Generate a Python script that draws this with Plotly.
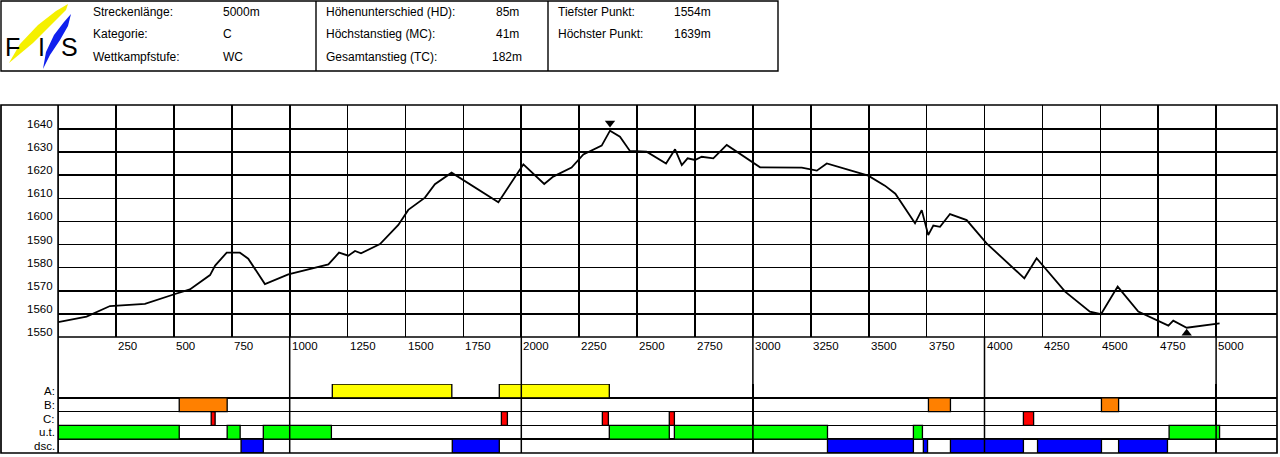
import plotly.graph_objects as go

# ---------------- data ----------------
distance_m = [0, 123, 224, 375, 505, 569, 656, 678, 728, 785, 821, 893, 994, 1167, 1213, 1253,
              1282, 1308, 1390, 1469, 1512, 1584, 1627, 1699, 1901, 1944, 2009, 2099, 2138, 2217,
              2268, 2347, 2383, 2426, 2469, 2541, 2625, 2664, 2693, 2718, 2750, 2779, 2829, 2887,
              3031, 3211, 3276, 3319, 3498, 3570, 3615, 3700, 3729, 3757, 3779, 3808, 3851, 3923,
              4009, 4172, 4225, 4348, 4455, 4503, 4575, 4664, 4794, 4815, 4873, 5015]
elevation_m = [1556.4, 1558.8, 1563.4, 1564.3, 1568.6, 1570.6, 1576.8, 1580.9, 1586.5, 1586.5,
               1583.9, 1572.9, 1577.1, 1581.4, 1586.5, 1585.2, 1587.2, 1586.2, 1590.2, 1598.5,
               1605.0, 1610.3, 1616.1, 1621.1, 1608.3, 1615.0, 1624.7, 1616.2, 1619.4, 1623.3,
               1629.0, 1632.8, 1639.3, 1636.7, 1630.5, 1630.2, 1625.1, 1631.2, 1624.4, 1627.3,
               1626.6, 1628.0, 1627.3, 1633.1, 1623.4, 1623.3, 1622.0, 1625.1, 1619.8, 1615.5,
               1612.0, 1599.2, 1604.9, 1594.1, 1598.2, 1597.7, 1603.2, 1600.6, 1590.5, 1575.4,
               1584.1, 1569.6, 1561.0, 1559.9, 1571.8, 1561.0, 1554.9, 1557.1, 1554.0, 1555.9]

x_ticks = list(range(250, 5001, 250))
x_tick_labels = [str(v) for v in x_ticks]
y_ticks = list(range(1550, 1641, 10))
y_tick_labels = [str(v) for v in y_ticks]
band_major_ticks = [1000, 2000, 3000, 4000, 5000]

band_rows = ["dsc.", "u.t.", "C:", "B:", "A:"]
band_colors = {"A:": "#ffff00", "B:": "#ff8000", "C:": "#ff0000", "u.t.": "#00ff00", "dsc.": "#0000ff"}
band_starts = {
    "A:": [1184, 1905],
    "B:": [523, 3758, 4505],
    "C:": [661, 1914, 2350, 2639, 4168],
    "u.t.": [0, 730, 886, 2380, 2661, 3693, 4797],
    "dsc.": [790, 1702, 3322, 3736, 3853, 4229, 4579],
}
band_ends = {
    "A:": [1700, 2380],
    "B:": [730, 3853, 4579],
    "C:": [678, 1940, 2376, 2661, 4212],
    "u.t.": [523, 786, 1180, 2639, 3322, 3732, 5015],
    "dsc.": [886, 1905, 3693, 3754, 4168, 4505, 4790],
}

header_labels_1 = ["Streckenlänge:", "Kategorie:", "Wettkampfstufe:"]
header_values_1 = ["5000m", "C", "WC"]
header_labels_2 = ["Höhenunterschied (HD):", "Höchstanstieg (MC):", "Gesamtanstieg (TC):"]
header_values_2 = ["85m", "41m", "182m"]
header_labels_3 = ["Tiefster Punkt:", "Höchster Punkt:"]
header_values_3 = ["1554m", "1639m"]

# ---------------- geometry helpers ----------------
W, H = 1280, 457
FONT = "Arial, Liberation Sans, Helvetica, sans-serif"


def px(x):
    return x / W


def py(y):
    return 1 - y / H


X0, X1 = 58.1, 1277.0
X_PER_M = 0.2316
x_range = [0, (X1 - X0) / X_PER_M]
Y_TOP, Y_BOT = 105.0, 337.0
Y_PER_M = 2.311
y_range = [1550, 1550 + (Y_BOT - Y_TOP) / Y_PER_M]
B_TOP, B_BOT = 384.0, 453.0

fig = go.Figure()

# elevation profile
fig.add_trace(go.Scatter(x=distance_m, y=elevation_m, mode="lines",
                         line=dict(color="black", width=1.8), hoverinfo="skip",
                         xaxis="x", yaxis="y", showlegend=False))

# highest / lowest markers
i_max = elevation_m.index(max(elevation_m))
i_min = elevation_m.index(min(elevation_m))
fig.add_trace(go.Scatter(x=[distance_m[i_max]], y=[elevation_m[i_max] + 3.3], mode="markers",
                         marker=dict(symbol="triangle-down", size=9, color="black"),
                         xaxis="x", yaxis="y", showlegend=False, hoverinfo="skip"))
fig.add_trace(go.Scatter(x=[distance_m[i_min]], y=[elevation_m[i_min] - 2.4], mode="markers",
                         marker=dict(symbol="triangle-up", size=9, color="black"),
                         xaxis="x", yaxis="y", showlegend=False, hoverinfo="skip"))

# bands
for row_idx, row in enumerate(band_rows):
    starts = band_starts[row]
    ends = band_ends[row]
    fig.add_trace(go.Bar(orientation="h", y=[row_idx] * len(starts),
                         x=[e - s for s, e in zip(starts, ends)], base=starts, width=1.0,
                         marker=dict(color=band_colors[row], line=dict(color="black", width=1.3)),
                         xaxis="x2", yaxis="y2", showlegend=False, hoverinfo="skip"))

shapes = []
annotations = []

# frame & structural lines
line_style = dict(color="black", width=1.7)
shapes.append(dict(type="rect", xref="paper", yref="paper", x0=px(1), x1=px(X1),
                   y0=py(B_BOT), y1=py(Y_TOP), line=line_style))
shapes.append(dict(type="line", xref="paper", yref="paper", x0=px(X0), x1=px(X0),
                   y0=py(B_BOT), y1=py(Y_TOP), line=line_style))
shapes.append(dict(type="line", xref="paper", yref="paper", x0=px(X0), x1=px(X1),
                   y0=py(Y_BOT), y1=py(Y_BOT), line=line_style))
for v in band_major_ticks:
    shapes.append(dict(type="line", xref="x2", yref="paper", x0=v, x1=v,
                       y0=py(B_BOT), y1=py(Y_BOT), line=dict(color="black", width=1.5)))

# header table
shapes.append(dict(type="rect", xref="paper", yref="paper", x0=px(1), x1=px(778),
                   y0=py(71), y1=py(1), line=dict(color="black", width=1.4)))
for xv in [316, 548]:
    shapes.append(dict(type="line", xref="paper", yref="paper", x0=px(xv), x1=px(xv),
                       y0=py(71), y1=py(1), line=dict(color="black", width=1.4)))

# logo swooshes


def path(points):
    s = "M " + " L ".join(f"{px(a):.5f},{py(b):.5f}" for a, b in points) + " Z"
    return s


yellow_pts = [(9, 63), (20, 44), (38, 25), (56, 11), (68, 4), (66, 10), (52, 24), (33, 43), (9, 63)]
blue_pts = [(43, 69), (46, 52), (54, 35), (64, 22), (71, 14), (68, 26), (60, 40), (50, 55), (43, 69)]
shapes.append(dict(type="path", xref="paper", yref="paper", path=path(yellow_pts),
                   fillcolor="#f5f000", line=dict(width=0), layer="below"))
shapes.append(dict(type="path", xref="paper", yref="paper", path=path(blue_pts),
                   fillcolor="#1020ee", line=dict(width=0), layer="below"))
for letter, lx in [("F", 3), ("I", 36), ("S", 59)]:
    annotations.append(dict(text=letter, xref="paper", yref="paper", x=px(lx), y=py(47),
                            xanchor="left", yanchor="middle", showarrow=False,
                            font=dict(family=FONT, size=25, color="black")))

row_y = [12, 34, 57]


def head(txt, x, y):
    annotations.append(dict(text=txt, xref="paper", yref="paper", x=px(x), y=py(y),
                            xanchor="left", yanchor="middle", showarrow=False,
                            font=dict(family=FONT, size=12, color="black")))


for i, (lab, val) in enumerate(zip(header_labels_1, header_values_1)):
    head(lab, 91, row_y[i]); head(val, 221, row_y[i])
for i, (lab, val) in enumerate(zip(header_labels_2, header_values_2)):
    head(lab, 324, row_y[i]); head(val, 494 if len(val) < 4 else 490, row_y[i])
for i, (lab, val) in enumerate(zip(header_labels_3, header_values_3)):
    head(lab, 556, row_y[i]); head(val, 672, row_y[i])

# axis labels
for v, t in zip(y_ticks, y_tick_labels):
    annotations.append(dict(text=t, xref="paper", yref="y", x=px(55), y=v, yshift=5,
                            xanchor="right", yanchor="middle", showarrow=False,
                            font=dict(family=FONT, size=11.5, color="black")))
for v, t in zip(x_ticks, x_tick_labels):
    annotations.append(dict(text=t, xref="x", yref="paper", x=v, y=py(346), xshift=0,
                            xanchor="left", yanchor="middle", showarrow=False,
                            font=dict(family=FONT, size=11.5, color="black")))
for idx, row in enumerate(band_rows):
    annotations.append(dict(text=row, xref="paper", yref="y2", x=px(57), y=idx,
                            xanchor="right", yanchor="middle", showarrow=False,
                            font=dict(family=FONT, size=11.5, color="black")))

grid = dict(color="black", width=1.6)
fig.update_layout(
    width=W, height=H, autosize=False,
    margin=dict(l=0, r=0, t=0, b=0, pad=0),
    paper_bgcolor="white", plot_bgcolor="white",
    barmode="overlay", bargap=0,
    font=dict(family=FONT, color="black"),
    xaxis=dict(domain=[px(X0), px(X1)], range=x_range, anchor="y",
               tickvals=x_ticks, showticklabels=False, ticks="",
               showgrid=True, gridcolor=grid["color"], gridwidth=grid["width"],
               zeroline=False, showline=False, fixedrange=True),
    yaxis=dict(domain=[py(Y_BOT), py(Y_TOP)], range=y_range, anchor="x",
               tickvals=y_ticks[1:], showticklabels=False, ticks="",
               showgrid=True, gridcolor=grid["color"], gridwidth=grid["width"],
               zeroline=False, showline=False, fixedrange=True),
    xaxis2=dict(domain=[px(X0), px(X1)], range=x_range, anchor="y2",
                tickvals=band_major_ticks, showticklabels=False, ticks="",
                showgrid=True, gridcolor=grid["color"], gridwidth=1.5,
                zeroline=False, showline=False, fixedrange=True),
    yaxis2=dict(domain=[py(B_BOT), py(B_TOP)], range=[-0.5, 4.5], anchor="x2",
                tickvals=[-0.5, 0.5, 1.5, 2.5, 3.5, 4.5], showticklabels=False, ticks="",
                showgrid=True, gridcolor=grid["color"], gridwidth=1.6,
                zeroline=False, showline=False, fixedrange=True),
    shapes=shapes,
    annotations=annotations,
)

fig.write_html("out.html", config={"displayModeBar": False, "staticPlot": True},
               post_script="document.body.style.margin='0';")
